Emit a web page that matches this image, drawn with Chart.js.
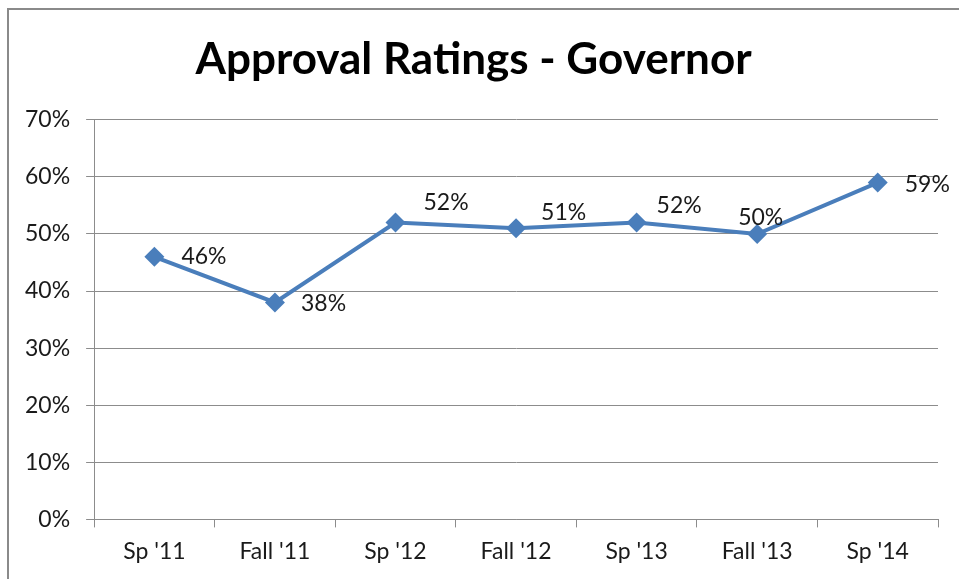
<!DOCTYPE html>
<html>
<head>
<meta charset="utf-8">
<script src="https://cdn.jsdelivr.net/npm/chart.js@4"></script>
<style>
  html, body { margin: 0; padding: 0; background: #fff; overflow: hidden; }
</style>
</head>
<body>
<canvas id="lineChart" width="959" height="579"></canvas>
<script>
// datos del grafico
var categories = ["Sp '11", "Fall '11", "Sp '12", "Fall '12", "Sp '13", "Fall '13", "Sp '14"];
var approval = [46, 38, 52, 51, 52, 50, 59];
var yTicks = [0, 10, 20, 30, 40, 50, 60, 70];

var FONT = "Lato, 'Open Sans', sans-serif";

// desplazamiento de cada etiqueta respecto a su punto (como en el original)
var labelOffsets = [
    { dx: 27, dy: 0 },
    { dx: 26, dy: 1 },
    { dx: 28, dy: -20 },
    { dx: 25, dy: -16 },
    { dx: 20, dy: -17 },
    { dx: -19, dy: -16 },
    { dx: 27, dy: 2 }
];

var frame = {
    id: 'frame',
    beforeDraw: function (chart) {
        var c = chart.ctx;
        c.save();
        c.fillStyle = '#fff';
        c.fillRect(0, 0, chart.width, chart.height);
        c.strokeStyle = '#8a8a8a';
        c.lineWidth = 2;
        c.strokeRect(8, 9, 1000, 1000);
        c.restore();
    }
};

var pointLabels = {
    id: 'pointLabels',
    afterDatasetsDraw: function (chart) {
        var c = chart.ctx;
        var meta = chart.getDatasetMeta(0);
        c.save();
        c.font = '23px ' + FONT;
        c.fillStyle = '#1a1a1a';
        c.textBaseline = 'middle';
        c.textAlign = 'left';
        meta.data.forEach(function (pt, i) {
            var o = labelOffsets[i];
            c.fillText(approval[i] + '%', pt.x + o.dx, pt.y + o.dy);
        });
        c.restore();
    }
};

var ctx = document.getElementById('lineChart').getContext('2d');
var myChart = new Chart(ctx, {
    type: 'line',
    data: {
        labels: categories,
        datasets: [{
            label: 'Approval',
            data: approval,
            borderColor: '#4a7ebb',
            backgroundColor: '#4a7ebb',
            borderWidth: 4,
            pointStyle: 'rectRot',
            pointRadius: 10,
            pointHoverRadius: 10,
            pointBorderWidth: 0,
            tension: 0,
            fill: false
        }]
    },
    options: {
        responsive: false,
        animation: false,
        layout: { padding: { left: 9, right: 21, top: 8, bottom: 4 } },
        plugins: {
            legend: { display: false },
            tooltip: { enabled: false },
            title: {
                display: true,
                text: 'Approval Ratings - Governor',
                color: '#000',
                font: { family: FONT, size: 44, weight: 'bold' },
                padding: { top: 25, bottom: 34 }
            }
        },
        scales: {
            x: {
                offset: true,
                grid: {
                    offset: true,
                    drawOnChartArea: false,
                    tickLength: 8,
                    color: '#8c8c8c'
                },
                border: { color: '#8c8c8c', width: 1 },
                ticks: {
                    color: '#1a1a1a',
                    padding: 10,
                    font: { family: FONT, size: 23 }
                }
            },
            y: {
                min: 0,
                max: 70,
                afterBuildTicks: function (axis) {
                    axis.ticks = yTicks.map(function (v) { return { value: v }; });
                },
                grid: {
                    color: '#8c8c8c',
                    tickLength: 8
                },
                border: { color: '#8c8c8c', width: 1 },
                ticks: {
                    color: '#1a1a1a',
                    padding: 16,
                    font: { family: FONT, size: 23 },
                    callback: function (v) { return v + '%'; }
                }
            }
        }
    },
    plugins: [frame, pointLabels]
});
</script>
</body>
</html>
